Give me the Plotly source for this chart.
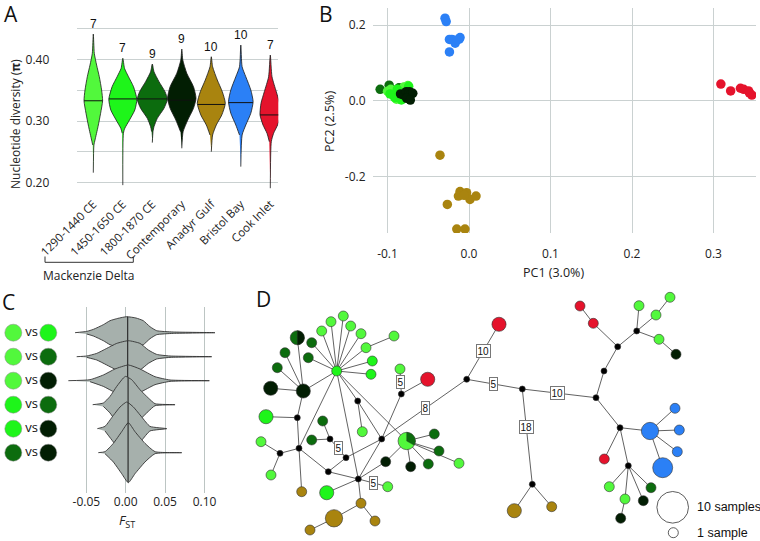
import numpy as np
import plotly.graph_objects as go

W, H = 760, 541

COL = {
    'p1290': '#52f83c',
    'p1450': '#1ef51a',
    'p1800': '#0c6c0e',
    'cont': '#021e03',
    'anadyr': '#a9840f',
    'bristol': '#2b80f6',
    'cook': '#e5132c',
    'mv': '#000000',
}
SANS = 'Open Sans'
ARIAL = 'Liberation Sans'
GRID = '#cad1d1'

# ---------------- Panel A : nucleotide diversity ----------------
a_categories = ['1290-1440 CE', '1450-1650 CE', '1800-1870 CE', 'Contemporary',
                'Anadyr Gulf', 'Bristol Bay', 'Cook Inlet']
a_pops = ['p1290', 'p1450', 'p1800', 'cont', 'anadyr', 'bristol', 'cook']
a_sample_n = [7, 7, 9, 9, 10, 10, 7]
a_median_pi = [0.333, 0.336, 0.336, 0.334, 0.327, 0.330, 0.310]
a_pi_levels = [
    [0.2162, 0.2612, 0.2693, 0.291, 0.3127, 0.333, 0.3505, 0.372, 0.391, 0.410, 0.4414],
    [0.196, 0.2802, 0.2883, 0.3018, 0.318, 0.3354, 0.3558, 0.372, 0.3857, 0.402],
    [0.265, 0.283, 0.291, 0.3045, 0.3208, 0.3354, 0.3477, 0.364, 0.380, 0.3927],
    [0.2558, 0.2828, 0.3018, 0.3208, 0.337, 0.3558, 0.3776, 0.3992, 0.417],
    [0.2503, 0.2774, 0.2937, 0.31, 0.3289, 0.3477, 0.3667, 0.3883, 0.4045],
    [0.226, 0.2774, 0.2937, 0.3127, 0.3315, 0.3505, 0.372, 0.3883, 0.4235],
    [0.191, 0.2666, 0.2802, 0.2937, 0.31, 0.3289, 0.3477, 0.372, 0.4073],
]
a_density = [
    [0, 0.6, 1.7, 4.7, 7.3, 9.3, 8.3, 6.0, 3.3, 1.0, 0],
    [0, 0.6, 2.0, 6.7, 12.0, 14.0, 10.7, 5.7, 1.7, 0],
    [0, 0.7, 1.7, 5.0, 11.7, 15.0, 12.7, 6.7, 1.7, 0],
    [0, 1.3, 6.0, 11.7, 14.2, 11.7, 5.0, 1.0, 0],
    [0, 1.3, 5.0, 10.5, 14.0, 11.0, 6.0, 1.3, 0],
    [0, 1.3, 5.0, 10.0, 12.3, 10.0, 5.0, 1.3, 0],
    [0, 1.0, 3.3, 7.3, 10.3, 9.3, 6.0, 1.7, 0],
]

# ---------------- Panel B : PCA ----------------
b_order = ['p1800', 'p1290', 'p1450', 'cont', 'anadyr', 'bristol', 'cook']
b_pc1 = {
    'p1800': [-0.109, -0.098, -0.092, -0.086, -0.090, -0.082, -0.095, -0.079, -0.088],
    'p1290': [-0.100, -0.093, -0.089, -0.084, -0.080, -0.096, -0.075],
    'p1450': [-0.097, -0.091, -0.086, -0.083, -0.078, -0.074, -0.088],
    'cont': [-0.084, -0.080, -0.077, -0.075, -0.073, -0.071, -0.069, -0.0765, -0.072],
    'anadyr': [-0.0356, -0.0266, -0.015, -0.005, -0.011, -0.003, 0.0012, 0.0086, -0.013, -0.006],
    'bristol': [-0.0294, -0.028, -0.024, -0.019, -0.011, -0.012, -0.017, -0.024, -0.021, -0.015],
    'cook': [0.309, 0.321, 0.333, 0.337, 0.343, 0.347, 0.344],
}
b_pc2 = {
    'p1800': [0.030, 0.041, 0.028, 0.034, 0.020, 0.030, 0.022, 0.035, 0.012],
    'p1290': [0.025, 0.015, 0.004, 0.010, 0.036, 0.030, 0.040],
    'p1450': [0.018, 0.008, 0.020, 0.002, 0.012, 0.038, 0.030],
    'cont': [0.018, 0.015, 0.024, 0.010, 0.024, 0.018, 0.0196, 0.0063, 0.0018],
    'anadyr': [-0.144, -0.274, -0.339, -0.339, -0.240, -0.243, -0.261, -0.252, -0.252, -0.250],
    'bristol': [0.218, 0.209, 0.162, 0.160, 0.167, 0.163, 0.152, 0.129, 0.162, 0.160],
    'cook': [0.044, 0.026, 0.033, 0.030, 0.026, 0.015, 0.021],
}

# ---------------- Panel C : pairwise FST ----------------
c_pairs = [('p1290', 'p1450'), ('p1290', 'p1800'), ('p1290', 'cont'),
           ('p1450', 'p1800'), ('p1450', 'cont'), ('p1800', 'cont')]
c_fst_grid = [
    [-0.0643, -0.0495, -0.0411, -0.0284, -0.0199, -0.0100, 0.0013, 0.0130, 0.0223, 0.0308, 0.0393, 0.0604, 0.1133],
    [-0.0622, -0.0495, -0.0368, -0.0241, -0.0114, 0.0033, 0.0181, 0.0287, 0.0393, 0.0562, 0.1091],
    [-0.0728, -0.0453, -0.0284, -0.0136, 0.0033, 0.0181, 0.0372, 0.0562, 0.1061],
    [-0.0419, -0.0284, -0.0199, -0.0114, -0.0030, 0.0000, 0.0076, 0.0181, 0.0287, 0.0372, 0.0626],
    [-0.0360, -0.0263, -0.0157, -0.0072, 0.0013, 0.0097, 0.0203, 0.0308, 0.0520],
    [-0.0348, -0.0263, -0.0157, -0.0051, 0.0033, 0.0118, 0.0245, 0.0372, 0.0711],
]
c_density = [
    [0, 1.3, 3.3, 8.0, 12.0, 14.3, 16.0, 14.7, 12.0, 6.0, 2.0, 0.7, 0],
    [0, 0.7, 3.3, 8.3, 13.3, 16.0, 13.3, 6.7, 2.3, 0.7, 0],
    [0, 1.0, 5.7, 11.7, 15.7, 11.7, 4.0, 0.7, 0],
    [0, 1.7, 8.3, 18.3, 26.7, 28.3, 25.0, 15.0, 6.7, 1.0, 0],
    [0, 2.3, 13.3, 21.7, 26.7, 21.7, 11.7, 2.3, 0],
    [0, 1.0, 9.3, 21.0, 30.0, 21.0, 9.3, 1.0, 0],
]
c_median_fst = [0.0025, 0.0025, 0.0025, 0.003, 0.003, 0.003]

# ---------------- Panel D : haplotype network ----------------
node_x = [76.7, 83.3, 71.0, 61.7, 90.7, 101.0, 106.0, 112.3, 111.0, 134.0,
          37.3, 51.7, 48.3, 25.0, 17.3, 43.3, 10.7, 6.0, 37.3, 39.0,
          20.0, 1.0, 11.0, 41.7, 68.3, 98.3, 86.0, 70.0, 62.7, 51.7,
          121.7, 97.7, 102.3, 141.3, 140.0, 167.7, 146.7, 174.3, 179.0, 168.3,
          150.7, 199.0, 125.7, 66.7, 127.7, 101.0, 74.0, 115.0, 50.0, 206.7,
          239.0, 262.3, 272.3, 254.3, 291.7, 336.0, 344.0, 357.7, 376.7, 333.3,
          320.0, 379.0, 396.0, 410.0, 399.0, 416.0, 360.0, 390.0, 415.0, 419.3,
          417.3, 402.7, 344.3, 368.3, 349.3, 365.0, 360.7, 391.0, 383.3]
node_y = [81.0, 26.0, 31.7, 41.0, 36.0, 43.7, 57.7, 71.0, 84.3, 46.0,
          47.7, 52.7, 67.7, 62.7, 77.7, 101.0, 98.3, 126.7, 127.7, 158.3,
          163.3, 151.7, 185.0, 201.7, 181.7, 189.0, 167.7, 149.0, 131.0, 150.0,
          149.0, 111.0, 141.7, 104.0, 79.0, 89.3, 151.0, 144.0, 161.0, 174.0,
          176.7, 173.3, 171.7, 202.7, 196.7, 213.3, 228.3, 231.0, 240.0, 89.3,
          34.3, 99.0, 194.3, 220.7, 216.7, 107.7, 81.0, 56.7, 41.0, 33.3,
          16.0, 15.7, 25.0, 7.3, 49.3, 64.3, 137.7, 141.0, 118.3, 140.0,
          161.7, 177.7, 169.0, 175.7, 196.7, 209.0, 228.3, 197.7, 210.7]
node_count = [1, 1, 1, 1, 1, 1, 1, 1, 1, 1,
              2, 1, 1, 1, 1, 2, 2, 2, 0, 0,
              0, 1, 1, 1, 0, 0, 0, 0, 1, 1,
              0, 0, 1, 0, 1, 2, 3, 1, 1, 1,
              1, 1, 1, 2, 1, 1, 3, 1, 1, 0,
              2, 0, 0, 2, 1, 0, 0, 0, 0, 1,
              1, 1, 1, 1, 1, 1, 0, 3, 1, 1,
              1, 4, 1, 0, 1, 1, 1, 1, 1]
node_pop = ['p1450', 'p1290', 'p1290', 'p1290', 'p1290', 'p1290', 'p1290', 'p1450', 'p1450', 'p1290',
            'p1800', 'p1800', 'p1800', 'p1800', 'p1800', 'cont', 'cont', 'p1450', 'mv', 'mv',
            'mv', 'p1290', 'p1290', 'anadyr', 'mv', 'mv', 'mv', 'mv', 'p1800', 'p1800',
            'mv', 'mv', 'p1290', 'mv', 'p1290', 'cook', 'p1290', 'p1800', 'p1800', 'p1800',
            'cont', 'p1290', 'cont', 'p1450', 'p1290', 'anadyr', 'anadyr', 'anadyr', 'anadyr', 'mv',
            'cook', 'mv', 'mv', 'anadyr', 'anadyr', 'mv', 'mv', 'mv', 'mv', 'cook',
            'cook', 'p1290', 'p1290', 'p1290', 'p1290', 'cont', 'mv', 'bristol', 'bristol', 'bristol',
            'bristol', 'bristol', 'cook', 'mv', 'p1290', 'p1290', 'cont', 'p1800', 'cont']
edges = [(0, 1), (0, 2), (0, 3), (0, 4), (0, 5), (0, 6), (0, 7), (0, 8), (6, 9), (0, 11), (0, 12),
         (10, 15), (13, 15), (14, 15), (16, 15), (15, 0), (15, 18), (17, 18), (18, 19), (19, 0),
         (19, 20), (21, 20), (22, 20), (23, 19), (19, 24), (24, 25), (24, 26), (26, 27), (27, 28),
         (27, 29), (26, 30), (0, 25), (0, 31), (31, 32), (31, 30), (0, 36), (30, 33), (33, 34),
         (33, 35), (30, 49), (25, 30), (25, 42), (42, 36), (25, 44), (25, 43), (25, 45), (45, 46),
         (46, 48), (45, 47), (36, 37), (36, 38), (36, 39), (36, 40), (36, 41), (49, 50), (49, 51),
         (51, 52), (52, 53), (52, 54), (51, 55), (55, 56), (56, 57), (57, 58), (57, 59), (59, 60),
         (58, 61), (58, 62), (62, 63), (58, 64), (64, 65), (55, 66), (66, 67), (67, 68), (67, 69),
         (67, 70), (67, 71), (66, 72), (66, 73), (73, 74), (73, 75), (75, 76), (73, 77), (73, 78)]
# (from node, to node, mutations, relative position of label along the edge)
edge_labels = [(26, 27, '5', 0.5), (33, 34, '5', 0.49), (30, 49, '8', 0.52), (25, 44, '5', 0.51),
               (49, 50, '10', 0.51), (49, 51, '5', 0.48), (51, 52, '18', 0.40), (51, 55, '10', 0.48)]
# mixed haplotypes: node, second population, its share of the node
pie_nodes = [(10, 'cont', 0.5), (36, 'p1800', 1 / 3)]
legend_counts = [10, 1]
legend_texts = ['10 samples', '1 sample']
legend_x = [412.7, 413.3]
legend_y = [217.3, 242.7]


def node_diam(n):
    return 10.0 * np.sqrt(n) if n > 0 else 6.0


fig = go.Figure()

# ---- A ----
PX_PER_CAT = 29.5
for i, (lv, dens) in enumerate(zip(a_pi_levels, a_density)):
    lv = np.array(lv)
    hw = np.array(dens) / PX_PER_CAT
    xs = np.concatenate([i + hw, (i - hw)[::-1][1:-1]])
    ys = np.concatenate([lv, lv[::-1][1:-1]])
    fig.add_trace(go.Scatter(x=xs, y=ys, mode='lines', fill='toself',
                             fillcolor=COL[a_pops[i]],
                             line=dict(color='#1a1a1a', width=0.8, shape='spline', smoothing=0.6),
                             xaxis='x', yaxis='y', hoverinfo='skip'))
    w = np.interp(a_median_pi[i], lv, hw)
    fig.add_trace(go.Scatter(x=[i - w, i + w], y=[a_median_pi[i]] * 2, mode='lines',
                             line=dict(color='#111', width=1), xaxis='x', yaxis='y', hoverinfo='skip'))

# ---- B ----
for key in b_order:
    fig.add_trace(go.Scatter(x=b_pc1[key], y=b_pc2[key], mode='markers',
                             marker=dict(size=9.5, color=COL[key], opacity=1, line=dict(width=0)),
                             xaxis='x2', yaxis='y2', hoverinfo='skip'))

# ---- C ----
ROW_PX = 24.0
for r, (g, d) in enumerate(zip(c_fst_grid, c_density)):
    g = np.array(g)
    h = np.array(d) / ROW_PX
    xs = np.concatenate([g, g[::-1][1:-1]])
    ys = np.concatenate([r - h, (r + h)[::-1][1:-1]])
    fig.add_trace(go.Scatter(x=xs, y=ys, mode='lines', fill='toself', fillcolor='#a6b0ac',
                             line=dict(color='#333', width=0.9, shape='spline', smoothing=0.5),
                             xaxis='x3', yaxis='y3', hoverinfo='skip'))
    hm = np.interp(c_median_fst[r], g, h)
    fig.add_trace(go.Scatter(x=[c_median_fst[r]] * 2, y=[r - hm, r + hm], mode='lines',
                             line=dict(color='#222', width=1.1), xaxis='x3', yaxis='y3', hoverinfo='skip'))

# legend circles for C
rows = list(range(len(c_pairs)))
for side, xpos in ((0, 13.3), (1, 48.3)):
    fig.add_trace(go.Scatter(x=[xpos] * len(rows), y=rows, mode='markers',
                             marker=dict(size=17, opacity=1, color=[COL[p[side]] for p in c_pairs],
                                         line=dict(color='#888', width=0.5)),
                             xaxis='x5', yaxis='y3', hoverinfo='skip'))
fig.add_trace(go.Scatter(x=[31.5] * len(rows), y=rows, mode='text', text=['vs'] * len(rows),
                         textfont=dict(family=SANS, size=13, color='#111'),
                         xaxis='x5', yaxis='y3', hoverinfo='skip'))

# ---- D ----
ex, ey = [], []
for a, b in edges:
    ex += [node_x[a], node_x[b], None]
    ey += [node_y[a], node_y[b], None]
fig.add_trace(go.Scatter(x=ex, y=ey, mode='lines', line=dict(color='#3a3a3a', width=0.8),
                         xaxis='x4', yaxis='y4', hoverinfo='skip'))
fig.add_trace(go.Scatter(x=node_x, y=node_y, mode='markers', cliponaxis=False,
                         marker=dict(size=[node_diam(n) for n in node_count], opacity=1,
                                     color=[COL[p] for p in node_pop],
                                     line=dict(color='#333', width=0.6)),
                         xaxis='x4', yaxis='y4', hoverinfo='skip'))
for idx, pop2, frac in pie_nodes:
    r = node_diam(node_count[idx]) / 2
    th = np.linspace(0, 2 * np.pi * frac, 30)
    wx = [node_x[idx]] + list(node_x[idx] + r * np.sin(th)) + [node_x[idx]]
    wy = [node_y[idx]] + list(node_y[idx] - r * np.cos(th)) + [node_y[idx]]
    fig.add_trace(go.Scatter(x=wx, y=wy, mode='lines', fill='toself', fillcolor=COL[pop2],
                             line=dict(color='#333', width=0.4), xaxis='x4', yaxis='y4',
                             hoverinfo='skip'))
fig.add_trace(go.Scatter(x=legend_x, y=legend_y, mode='markers',
                         marker=dict(size=[node_diam(n) for n in legend_counts], color='white',
                                     opacity=1, line=dict(color='#333', width=0.8)),
                         xaxis='x4', yaxis='y4', hoverinfo='skip'))

# ---------------- annotations ----------------
def P(x, y):
    return x / W, 1 - y / H


ann = []
for i, n in enumerate(a_sample_n):
    ann.append(dict(x=i, y=max(a_pi_levels[i]), xref='x', yref='y', text=str(n), showarrow=False,
                    xanchor='center', yanchor='bottom', yshift=1,
                    font=dict(family=ARIAL, size=12, color='#111')))
for a, b, txt, t in edge_labels:
    ann.append(dict(x=node_x[a] + t * (node_x[b] - node_x[a]), y=node_y[a] + t * (node_y[b] - node_y[a]),
                    xref='x4', yref='y4', text=txt, showarrow=False, bgcolor='white',
                    xanchor='center', yanchor='middle',
                    bordercolor='#777', borderwidth=1, borderpad=0.5,
                    font=dict(family=ARIAL, size=10, color='#111')))
for txt, lx, ly in zip(legend_texts, legend_x, legend_y):
    ann.append(dict(x=lx + 22, y=ly, xref='x4', yref='y4', text=txt, showarrow=False,
                    xanchor='left', yanchor='middle', font=dict(family=ARIAL, size=12.5, color='#111')))

for letter, (lx, ly) in zip('ABCD', [(11, 14), (326, 14), (8, 302), (263, 299)]):
    x, y = P(lx, ly)
    ann.append(dict(x=x, y=y, xref='paper', yref='paper', text=letter, showarrow=False,
                    xanchor='center', yanchor='middle',
                    font=dict(family=SANS, size=21, color='#111')))


def title(txt, px, py, angle=0, size=12):
    x, y = P(px, py)
    return dict(x=x, y=y, xref='paper', yref='paper', text=txt, showarrow=False, textangle=angle,
                xanchor='center', yanchor='middle',
                font=dict(family=SANS, size=size, color='#222'))


ann.append(title('Nucleotide diversity (<b>π</b>)', 15, 124, -90, 12))
ann.append(title('Mackenzie Delta', 89, 275, 0, 12))
ann.append(title('PC1 (3.0%)', 553, 272, 0, 12.5))
ann.append(title('PC2 (2.5%)', 330, 122, -90, 12.5))
ann.append(title('<i>F</i><sub>ST</sub>', 127, 521, 0, 13))

x0, y0 = P(45, 256.5)
x1, y1 = P(133.3, 262.3)
shapes = [dict(type='path', xref='paper', yref='paper',
               path=f'M {x0},{y0} L {x0},{y1} L {x1},{y1} L {x1},{y0}',
               line=dict(color='#333', width=1))]

tickfont = dict(family=SANS, size=12, color='#222')
clear = 'rgba(0,0,0,0)'

fig.update_layout(
    width=W, height=H, margin=dict(l=0, r=0, t=0, b=0, autoexpand=False),
    paper_bgcolor='white', plot_bgcolor='white', showlegend=False,
    annotations=ann, shapes=shapes,
    xaxis=dict(domain=[76.7 / W, 278.3 / W], range=[-0.563, 6.271], tickvals=list(range(7)),
               ticktext=a_categories, tickangle=-45, showgrid=False, zeroline=False, showline=False,
               ticks='outside', ticklen=2, tickcolor=clear,
               tickfont=dict(family=SANS, size=11.5, color='#222'), anchor='y', automargin=False),
    yaxis=dict(domain=[1 - 190 / H, 1 - 10 / H], range=[0.1881, 0.4804],
               tickvals=[0.20, 0.30, 0.40], ticktext=['0.20', '0.30', '0.40'],
               minor=dict(tickmode='array', tickvals=[0.25, 0.35, 0.45], showgrid=True,
                          gridcolor=GRID, gridwidth=1.2, ticks=''),
               gridcolor=GRID, gridwidth=1.2,
               zeroline=False, showline=False, ticks='outside', ticklen=24, tickcolor=clear,
               tickfont=tickfont, anchor='x', automargin=False),
    xaxis2=dict(domain=[373 / W, 756 / W], range=[-0.1178, 0.3521], tickvals=[-0.1, 0, 0.1, 0.2, 0.3],
                ticktext=['-0.1', '0.0', '0.1', '0.2', '0.3'], gridcolor=GRID, gridwidth=1.3,
                zeroline=False, showline=False, ticks='outside', ticklen=10, tickcolor=clear,
                tickfont=tickfont, anchor='y2', automargin=False),
    yaxis2=dict(domain=[1 - 233 / H, 1 - 8 / H], range=[-0.3495, 0.245], tickvals=[-0.2, 0, 0.2],
                ticktext=['-0.2', '0.0', '0.2'], gridcolor=GRID, gridwidth=1.3, zeroline=False,
                showline=False, ticks='outside', ticklen=4, tickcolor=clear, tickfont=tickfont,
                anchor='x2', automargin=False),
    xaxis3=dict(domain=[60 / W, 225 / W], range=[-0.0834, 0.126], tickvals=[-0.05, 0, 0.05, 0.1],
                ticktext=['-0.05', '0.00', '0.05', '0.10'], gridcolor='#bcc5c3', gridwidth=1.2,
                zeroline=False, showline=False, ticks='', tickfont=tickfont, anchor='y3',
                automargin=False),
    yaxis3=dict(domain=[1 - 493 / H, 1 - 306.7 / H], range=[6.68, -1.083], visible=False,
                anchor='x3', automargin=False),
    xaxis5=dict(domain=[0, 62 / W], range=[0, 62], visible=False, anchor='y3', automargin=False),
    xaxis4=dict(domain=[255 / W, 1], range=[-5, 500], visible=False, anchor='y4', automargin=False),
    yaxis4=dict(domain=[0, 251 / H], range=[251, 0], visible=False, anchor='x4', automargin=False),
)

fig.write_html('out.html', config={'displayModeBar': False},
               post_script="document.body.style.margin='0';document.body.style.overflow='hidden';")
